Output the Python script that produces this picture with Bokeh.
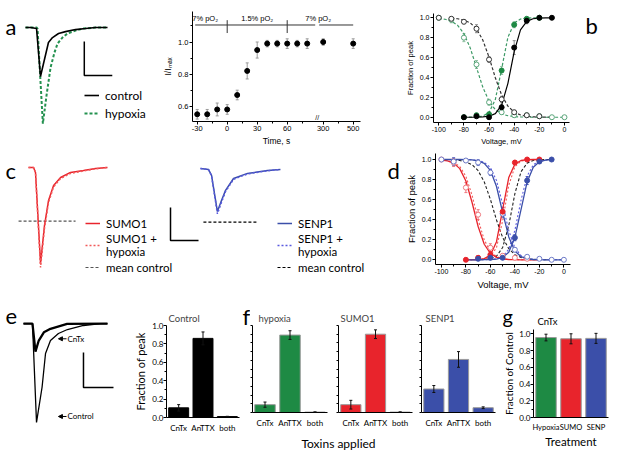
from bokeh.plotting import figure
from bokeh.layouts import row, column
from bokeh.models import (Range1d, FactorRange, FixedTicker, Label, Legend, LegendItem,
                          Whisker, ColumnDataSource, Arrow, NormalHead, TeeHead,
                          CustomJSTickFormatter, NumeralTickFormatter)
from bokeh.embed import file_html
from bokeh.resources import INLINE

ARIAL = "Liberation Sans"
CAL = "Lato"
GREEN = "#1e8a44"
GREEN_B = "#3d9a66"
GREEN_TR = "#23914f"
RED = "#e8242c"
RED_LT = "#f07a80"
RED_DOT = "#f25a5a"
BLUE = "#3b4fa9"
BLUE_LT = "#6f7cc8"
BLUE_DOT = "#5a5ae0"

# ======================= DATA =======================
# (a) example Na+ currents: time (ms), current (pA)
a_ctrl_t = [0.0, 0.36, 0.79, 1.07, 1.64, 1.93, 2.36, 2.86, 3.57, 4.29, 5.0, 5.86]
a_ctrl_i = [0, 0, -6, -288, -88, -59, -35, -24, -12, -6, 0, 0]
a_hyp_t = [0.0, 0.79, 0.86, 1.24, 1.5, 1.79, 2.07, 2.29, 2.64, 3.0, 3.57, 4.14, 5.0, 5.86]
a_hyp_i = [0, 0, -6, -565, -400, -235, -147, -94, -59, -35, -18, -6, 0, 0]

# (a) I/Imax time course
a2_t = [-30, -20, -10, 0, 10, 20, 30, 40, 50, 60, 70, 80, 300, 500]
a2_val = [0.55, 0.55, 0.58, 0.58, 0.67, 0.82, 0.95, 0.99, 0.99, 0.99, 0.99, 0.99, 1.0, 0.99]
a2_err = [0.03, 0.03, 0.04, 0.03, 0.03, 0.05, 0.05, 0.02, 0.02, 0.03, 0.02, 0.03, 0.02, 0.03]
a2_tick_t = [-30, 0, 30, 60, 300, 500]
a2_tick_labels = ["-30", "0", "30", "60", "300", "500"]
po2_switch_t = [0, 60]
po2_labels = ["7% pO\u2082", "1.5% pO\u2082", "7% pO\u2082"]

# (b) activation / inactivation (voltage mV, fraction of peak)
b_ctrl_act_v = [-80, -70, -60, -50, -40, -30, -20, -10]
b_ctrl_act = [0.0, 0.01, 0.0, 0.10, 0.70, 0.97, 1.0, 1.0]
b_ctrl_act_err = [0.01, 0.01, 0.01, 0.03, 0.07, 0.03, 0.01, 0.01]
b_hyp_act_v = [-80, -70, -60, -50, -40, -30, -20]
b_hyp_act = [0.0, 0.02, 0.03, 0.47, 0.93, 0.99, 1.0]
b_hyp_act_err = [0.01, 0.02, 0.02, 0.04, 0.03, 0.01, 0.01]
b_ctrl_inact_v = [-100, -90, -80, -70, -60, -50, -40, -30, -20]
b_ctrl_inact = [1.0, 0.99, 0.96, 0.89, 0.58, 0.18, 0.05, 0.02, 0.01]
b_ctrl_inact_err = [0.01, 0.02, 0.02, 0.04, 0.03, 0.03, 0.02, 0.01, 0.01]
b_hyp_inact_v = [-100, -90, -80, -70, -60, -50, -40, -30, -20, -10, 0]
b_hyp_inact = [1.0, 0.98, 0.80, 0.53, 0.15, 0.05, 0.02, 0.02, 0.01, 0.0, 0.0]
b_hyp_inact_err = [0.01, 0.03, 0.04, 0.04, 0.03, 0.02, 0.02, 0.02, 0.02, 0.01, 0.01]

# fitted curves, read every 5 mV
fit_v_ctrl_act = list(range(-80, -9, 5))
fit_ctrl_act = [0.0, 0.0, 0.001, 0.003, 0.010, 0.036, 0.122, 0.341, 0.659, 0.878, 0.964, 0.990, 0.997, 0.999, 1.0]
fit_v_ctrl_inact = list(range(-90, -9, 5))
fit_ctrl_inact = [0.996, 0.990, 0.977, 0.949, 0.889, 0.777, 0.603, 0.397, 0.223, 0.111, 0.051, 0.023, 0.010,
                  0.004, 0.002, 0.001, 0.0]
fit_v_hyp_act = list(range(-80, -19, 5))
fit_hyp_act = [0.0, 0.001, 0.003, 0.011, 0.047, 0.178, 0.485, 0.804, 0.947, 0.987, 0.997, 0.999, 1.0]
fit_v_hyp_inact = list(range(-100, 1, 5))
fit_hyp_inact = [0.993, 0.985, 0.966, 0.924, 0.841, 0.697, 0.5, 0.303, 0.159, 0.076, 0.034, 0.015, 0.007,
                 0.003, 0.001, 0.0, 0.0, 0.0, 0.0, 0.0, 0.0]

# (c) SUMO1 / SENP1 currents: time (ms), current (pA)
c_sumo_t = [0.0, 0.36, 0.5, 0.86, 1.14, 1.43, 1.79, 2.29, 3.0, 3.93, 4.79, 5.64]
c_sumo_i = [0, 0, -30, -582, -352, -200, -109, -61, -30, -18, -6, 0]
c_sumo_hyp_i = [0, 0, -30, -606, -370, -212, -118, -67, -36, -21, -8, 0]
c_senp_t = [0.0, 0.57, 0.79, 1.21, 1.5, 1.79, 2.36, 3.36, 4.79, 5.71]
c_senp_i = [0, -6, -42, -261, -194, -133, -61, -30, -12, -6]
c_senp_hyp_i = [0, -6, -45, -275, -205, -140, -66, -33, -14, -6]
c_mean_ctrl_peak = -325
c_sumo_mean_t = [-0.71, 3.36]
c_senp_mean_t = [0.21, 4.14]

# (d) SUMO1 / SENP1 activation and inactivation
d_sumo_inact_v = [-100, -90, -80, -70, -60, -50, -40, -30]
d_sumo_inact = [1.0, 0.97, 0.72, 0.45, 0.12, 0.04, 0.02, 0.01]
d_sumo_inact_err = [0.01, 0.04, 0.05, 0.05, 0.04, 0.02, 0.01, 0.01]
d_sumo_act_v = [-80, -70, -60, -50, -40, -30, -20]
d_sumo_act = [0.0, 0.02, 0.05, 0.48, 0.97, 1.0, 1.0]
d_sumo_act_err = [0.01, 0.02, 0.03, 0.04, 0.02, 0.01, 0.01]
d_senp_inact_v = [-100, -90, -80, -70, -60, -50, -40, -30, -20, -10, 0]
d_senp_inact = [1.0, 0.98, 0.99, 0.97, 0.87, 0.46, 0.10, 0.03, 0.01, 0.0, 0.0]
d_senp_inact_err = [0.01, 0.04, 0.02, 0.03, 0.03, 0.04, 0.02, 0.01, 0.01, 0.01, 0.01]
d_senp_act_v = [-70, -60, -50, -40, -30, -20, -10]
d_senp_act = [0.01, 0.02, 0.02, 0.22, 0.79, 0.98, 1.0]
d_senp_act_err = [0.01, 0.01, 0.01, 0.03, 0.04, 0.02, 0.01]

fit_v_sumo_inact = list(range(-100, -19, 5))
fit_sumo_inact = [0.995, 0.987, 0.964, 0.909, 0.786, 0.574, 0.332, 0.155, 0.063, 0.024, 0.009, 0.003, 0.001,
                  0.0, 0.0, 0.0, 0.0]
fit_sumo_hyp_inact = [0.996, 0.990, 0.973, 0.931, 0.832, 0.646, 0.401, 0.198, 0.083, 0.032, 0.012, 0.004,
                      0.002, 0.0, 0.0, 0.0, 0.0]
fit_v_sumo_act = list(range(-80, -19, 5))
fit_sumo_act = [0.0, 0.001, 0.002, 0.011, 0.046, 0.180, 0.5, 0.820, 0.954, 0.990, 0.998, 1.0, 1.0]
fit_sumo_hyp_act = [0.0, 0.0, 0.002, 0.007, 0.030, 0.122, 0.388, 0.743, 0.929, 0.984, 0.996, 0.999, 1.0]
fit_v_senp_inact = list(range(-100, 1, 5))
fit_senp_inact = [1.0, 1.0, 1.0, 1.0, 0.999, 0.996, 0.987, 0.962, 0.892, 0.731, 0.472, 0.228, 0.088, 0.031,
                  0.010, 0.003, 0.001, 0.0, 0.0, 0.0, 0.0]
fit_senp_hyp_inact = [1.0, 1.0, 1.0, 1.0, 0.999, 0.997, 0.991, 0.972, 0.920, 0.791, 0.555, 0.291, 0.119,
                      0.043, 0.014, 0.005, 0.002, 0.0, 0.0, 0.0, 0.0]
fit_v_senp_act = list(range(-80, -9, 5))
fit_senp_act = [0.0, 0.0, 0.0, 0.001, 0.002, 0.007, 0.023, 0.076, 0.223, 0.5, 0.777, 0.924, 0.977, 0.993, 0.998]
fit_senp_hyp_act = [0.0, 0.0, 0.0, 0.001, 0.003, 0.010, 0.033, 0.106, 0.294, 0.593, 0.836, 0.947, 0.984,
                    0.995, 0.999]

v_ticks = [-100, -80, -60, -40, -20, 0]
v_tick_labels = ["-100", "-80", "-60", "-40", "-20", "0"]
v_minor = [-90, -70, -50, -30, -10]
frac_ticks = [0.0, 0.2, 0.4, 0.6, 0.8, 1.0]
frac_minor = [0.1, 0.3, 0.5, 0.7, 0.9]
f_ticks = [0.0, 0.1, 0.2, 0.3, 0.4, 0.5, 0.6, 0.7, 0.8, 0.9, 1.0]

# (e) control vs CnTx currents
e_ctrl_t = [0.0, 0.6, 0.87, 1.24, 1.47, 1.8, 2.33, 2.93, 4.0, 5.13, 5.6]
e_ctrl_i = [0, 0, -565, -364, -171, -97, -57, -34, -11, 0, 0]
e_cntx_t = [0.0, 0.6, 0.8, 1.02, 1.36, 1.8, 2.91, 5.6]
e_cntx_i = [0, 0, -160, -97, -50, -30, -2, 0]

# (e)-(g) toxin block bars
toxins = ["CnTx", "AnTTX", "both"]
e_ctrl_val = [0.105, 0.86, 0.01]
e_ctrl_err = [0.035, 0.07, 0.003]
f_hyp_val = [0.09, 0.89, 0.005]
f_hyp_err = [0.03, 0.05, 0.002]
f_sumo_val = [0.09, 0.90, 0.005]
f_sumo_err = [0.05, 0.05, 0.002]
f_senp_val = [0.27, 0.61, 0.055]
f_senp_err = [0.04, 0.09, 0.01]
treatments = ["Hypoxia", "SUMO", "SENP"]
g_val = [0.955, 0.94, 0.945]
g_err = [0.04, 0.06, 0.06]

# ======================= HELPERS =======================
BREAK_AT, BREAK_SCALE = 96, 0.15
LETTER = "22px"


def tx(t):
    return t if t <= 80 else BREAK_AT + (t - 300) * BREAK_SCALE


def base_fig(w, h, xr, yr, left=0, right=0, top=0, bottom=0, axes=True, title=None):
    kw = dict(width=w, height=h, x_range=xr, y_range=yr, output_backend="svg",
              toolbar_location=None, min_border_left=left, min_border_right=right,
              min_border_top=top, min_border_bottom=bottom, title=title)
    if not axes:
        kw.update(x_axis_location=None, y_axis_location=None)
    p = figure(**kw)
    p.frame_align = False
    p.outline_line_color = None
    p.grid.visible = False
    p.background_fill_color = "white"
    p.border_fill_color = "white"
    return p


def text_fig(w, h):
    return base_fig(w, h, Range1d(0, w), Range1d(0, h), axes=False)


def style_axes(p, font, tick_size, label_size, tick_out=3):
    for ax in p.axis:
        ax.axis_line_color = "black"
        ax.major_tick_line_color = "black"
        ax.minor_tick_line_color = "black"
        ax.major_tick_out = tick_out
        ax.major_tick_in = 0
        ax.minor_tick_out = 2
        ax.minor_tick_in = 0
        ax.major_label_text_font = font
        ax.major_label_text_font_size = tick_size
        ax.major_label_text_color = "black"
        ax.axis_label_text_font = font
        ax.axis_label_text_font_size = label_size
        ax.axis_label_text_font_style = "normal"
        ax.axis_label_text_color = "black"
        ax.major_label_standoff = 1
        ax.axis_label_standoff = 2


def add_whisker(p, xs, ys, es, color, head=3, level="underlay", width=1):
    src = ColumnDataSource(dict(x=list(xs),
                                lo=[y - e for y, e in zip(ys, es)],
                                hi=[y + e for y, e in zip(ys, es)]))
    w = Whisker(base="x", lower="lo", upper="hi", source=src, line_color=color,
                line_width=width, level=level,
                upper_head=TeeHead(size=head, line_color=color, line_width=width),
                lower_head=TeeHead(size=head, line_color=color, line_width=width))
    p.add_layout(w)


def text(p, x, y, t, font=CAL, size=LETTER, align="left", baseline="alphabetic"):
    p.add_layout(Label(x=x, y=y, text=t, text_font=font, text_font_size=size,
                       text_baseline=baseline, text_align=align, text_color="black"))


def scale_bar(p, t0, i0, dt, di):
    p.line([t0, t0, t0 + dt], [i0 + di, i0, i0], line_color="black", line_width=1.5)


def legend(p, items, loc, size="12px", h=14):
    lg = Legend(items=[LegendItem(label=l, renderers=[r]) for l, r in items], location=loc,
                orientation="vertical", border_line_color=None, background_fill_alpha=0,
                padding=0, margin=0, spacing=2, glyph_width=15, glyph_height=h,
                label_height=h, label_standoff=6, label_text_font=CAL,
                label_text_font_size=size, label_text_color="black")
    p.add_layout(lg)


# ======================= ROW 1 (height 148) =======================
pA1 = base_fig(150, 148, Range1d(-1.786, 8.93), Range1d(-711, 159), axes=False)
rA_h = pA1.line(a_hyp_t, a_hyp_i, line_color=GREEN_TR, line_width=2, line_dash="3 2")
rA_c = pA1.line(a_ctrl_t, a_ctrl_i, line_color="black", line_width=1.6)
scale_bar(pA1, 4.2, -282, 2.0, 200)
legend(pA1, [("control", rA_c), ("hypoxia", rA_h)], (84, 27), h=16)
text(pA1, -1.43, 6, "a")

pA2 = base_fig(222, 148, Range1d(-34.7, 133.3), Range1d(0.505, 1.19), left=42, right=12, top=11, bottom=25)
style_axes(pA2, ARIAL, "7.5px", "8.5px")
a2_x = [tx(t) for t in a2_t]
add_whisker(pA2, a2_x, a2_val, a2_err, "#9a9a9a", head=3)
pA2.scatter(a2_x, a2_val, size=5, color="black")
tick_pos = [tx(t) for t in a2_tick_t]
pA2.xaxis.ticker = FixedTicker(ticks=tick_pos, minor_ticks=[-15, 15, 45, 75, tx(400)])
pA2.xaxis.major_label_overrides = dict(zip(tick_pos, a2_tick_labels))
pA2.yaxis.ticker = FixedTicker(ticks=[0.6, 0.8, 1.0], minor_ticks=[0.7, 0.9, 1.1])
pA2.yaxis.formatter = NumeralTickFormatter(format="0.0")
pA2.xaxis.axis_label = "Time, s"
pA2.yaxis.axis_label = "I/I\u2098\u2090\u2093"
po2_y, po2_tick = 1.106, 0.03
po2_x0 = [-32, po2_switch_t[0], po2_switch_t[1], BREAK_AT - 4]
po2_x1 = [po2_switch_t[0], po2_switch_t[1], BREAK_AT - 8, tx(500)]
pA2.segment(x0=po2_x0, y0=[po2_y] * 4, x1=po2_x1, y1=[po2_y] * 4, line_color="#333", line_width=1)
pA2.segment(x0=po2_switch_t, y0=[po2_y - po2_tick - 0.02] * 2, x1=po2_switch_t,
            y1=[po2_y + po2_tick] * 2, line_color="#333", line_width=1)
for lx, lt in zip([-22, 30, 91], po2_labels):
    text(pA2, lx, po2_y + 0.012, lt, font=ARIAL, size="7.5px", align="center", baseline="bottom")
pA2.add_layout(Label(x=BREAK_AT - 6, y=0.508, text="//", text_font=ARIAL, text_font_size="7px",
                     text_align="center", text_baseline="bottom", text_color="black"))

pB = base_fig(199, 148, Range1d(-104.2, 4.0), Range1d(-0.053, 1.043), left=61, right=2, top=13, bottom=25)
style_axes(pB, ARIAL, "7px", "7.5px")
pB.xaxis.ticker = FixedTicker(ticks=v_ticks, minor_ticks=v_minor)
pB.xaxis.major_label_overrides = dict(zip(v_ticks, v_tick_labels))
pB.yaxis.ticker = FixedTicker(ticks=frac_ticks, minor_ticks=frac_minor)
pB.yaxis.formatter = NumeralTickFormatter(format="0.0")
pB.xaxis.axis_label = "Voltage, mV"
pB.yaxis.axis_label = "Fraction of peak"
pB.line(fit_v_hyp_inact, fit_hyp_inact, line_color=GREEN_B, line_width=1.2, line_dash="3 2")
pB.line(fit_v_hyp_act, fit_hyp_act, line_color=GREEN_B, line_width=1.2, line_dash="3 2")
pB.line(fit_v_ctrl_inact, fit_ctrl_inact, line_color="#333333", line_width=1.2, line_dash="3 2")
pB.line(fit_v_ctrl_act, fit_ctrl_act, line_color="black", line_width=1.2)
add_whisker(pB, b_hyp_inact_v, b_hyp_inact, b_hyp_inact_err, "#8fbfa0")
add_whisker(pB, b_ctrl_inact_v, b_ctrl_inact, b_ctrl_inact_err, "#888888")
add_whisker(pB, b_hyp_act_v, b_hyp_act, b_hyp_act_err, "#8fbfa0")
add_whisker(pB, b_ctrl_act_v, b_ctrl_act, b_ctrl_act_err, "#888888")
pB.scatter(b_hyp_inact_v, b_hyp_inact, size=5, fill_color="white", line_color="#5aa57a", line_width=1)
pB.scatter(b_ctrl_inact_v, b_ctrl_inact, size=5, fill_color="white", line_color="#333333", line_width=1)
pB.scatter(b_hyp_act_v, b_hyp_act, size=5, fill_color=GREEN, line_color=GREEN)
pB.scatter(b_ctrl_act_v, b_ctrl_act, size=5, fill_color="black", line_color="black")

pLb = text_fig(46, 148)
text(pLb, 14, 123, "b")

# ======================= ROW 2 (height 146) =======================
pC1 = base_fig(199, 146, Range1d(-2.0, 12.21), Range1d(-770, 115), axes=False)
rC1_m = pC1.line(c_sumo_mean_t, [c_mean_ctrl_peak] * 2, line_color="#555555", line_width=1.2, line_dash="3 2")
rC1_s = pC1.line(c_sumo_t, c_sumo_i, line_color=RED, line_width=1.5)
rC1_h = pC1.line(c_sumo_t, c_sumo_hyp_i, line_color=RED_DOT, line_width=1.5, line_dash="2 2")
scale_bar(pC1, 10.14, -442, 2.0, 200)
legend(pC1, [("SUMO1", rC1_s), ("SUMO1 +\nhypoxia", rC1_h), ("mean control", rC1_m)], (85, 20), "11.5px")
text(pC1, -1.64, -18, "c")

pC2 = base_fig(203, 146, Range1d(-0.07, 14.43), Range1d(-764, 121), axes=False)
rC2_m = pC2.line(c_senp_mean_t, [c_mean_ctrl_peak] * 2, line_color="black", line_width=1.2, line_dash="3 2")
rC2_s = pC2.line(c_senp_t, c_senp_i, line_color=BLUE, line_width=1.5)
rC2_h = pC2.line(c_senp_t, c_senp_hyp_i, line_color=BLUE_DOT, line_width=1.5, line_dash="2 2")
legend(pC2, [("SENP1", rC2_s), ("SENP1 +\nhypoxia", rC2_h), ("mean control", rC2_m)], (78, 20), "11.5px")
text(pC2, 13.36, -12, "d")

pD = base_fig(215, 146, Range1d(-104.8, 5.4), Range1d(-0.047, 1.06), left=31, right=47, top=5, bottom=30)
style_axes(pD, ARIAL, "7px", "9.5px")
pD.xaxis.ticker = FixedTicker(ticks=v_ticks, minor_ticks=v_minor)
pD.xaxis.major_label_overrides = dict(zip(v_ticks, v_tick_labels))
pD.yaxis.ticker = FixedTicker(ticks=frac_ticks, minor_ticks=frac_minor)
pD.yaxis.formatter = NumeralTickFormatter(format="0.0")
pD.xaxis.axis_label = "Voltage, mV"
pD.yaxis.axis_label = "Fraction of peak"
pD.line(fit_v_ctrl_inact, fit_ctrl_inact, line_color="#222222", line_width=1.1, line_dash="3 2")
pD.line(fit_v_ctrl_act, fit_ctrl_act, line_color="#222222", line_width=1.1, line_dash="3 2")
pD.line(fit_v_sumo_inact, fit_sumo_hyp_inact, line_color=RED_DOT, line_width=1.1, line_dash="2 2")
pD.line(fit_v_sumo_act, fit_sumo_hyp_act, line_color=RED_DOT, line_width=1.1, line_dash="2 2")
pD.line(fit_v_senp_inact, fit_senp_hyp_inact, line_color=BLUE_DOT, line_width=1.1, line_dash="2 2")
pD.line(fit_v_senp_act, fit_senp_hyp_act, line_color=BLUE_DOT, line_width=1.1, line_dash="2 2")
pD.line(fit_v_sumo_inact, fit_sumo_inact, line_color=RED, line_width=1.3)
pD.line(fit_v_sumo_act, fit_sumo_act, line_color=RED, line_width=1.3)
pD.line(fit_v_senp_inact, fit_senp_inact, line_color=BLUE, line_width=1.3)
pD.line(fit_v_senp_act, fit_senp_act, line_color=BLUE, line_width=1.3)
add_whisker(pD, d_sumo_inact_v, d_sumo_inact, d_sumo_inact_err, RED_LT)
add_whisker(pD, d_sumo_act_v, d_sumo_act, d_sumo_act_err, RED)
add_whisker(pD, d_senp_inact_v, d_senp_inact, d_senp_inact_err, BLUE_LT)
add_whisker(pD, d_senp_act_v, d_senp_act, d_senp_act_err, BLUE)
pD.scatter(d_sumo_inact_v, d_sumo_inact, size=5, fill_color="white", line_color=RED_LT, line_width=1)
pD.scatter(d_senp_inact_v, d_senp_inact, size=5, fill_color="white", line_color=BLUE_LT, line_width=1)
pD.scatter(d_sumo_act_v, d_sumo_act, size=5, fill_color=RED, line_color=RED)
pD.scatter(d_senp_act_v, d_senp_act, size=5, fill_color=BLUE, line_color=BLUE)

# ======================= ROW 3 (height 157) =======================
pE1 = base_fig(125, 157, Range1d(-1.53, 6.8), Range1d(-731, 166), axes=False)
pE1.line(e_ctrl_t, e_ctrl_i, line_color="black", line_width=1.3)
pE1.line(e_cntx_t, e_cntx_i, line_color="black", line_width=2.3)
scale_bar(pE1, 4.0, -366, 2.0, 200)
for y_arrow, txt in [(-87, "CnTx"), (-531, "Control")]:
    pE1.add_layout(Arrow(end=NormalHead(size=4, fill_color="black", line_color="black"),
                         x_start=2.87, y_start=y_arrow, x_end=2.33, y_end=y_arrow,
                         line_color="black", line_width=1))
    text(pE1, 2.93, y_arrow, txt, size="8px", baseline="middle")
text(pE1, -1.2, 40, "e")


def bar_fig(w, h, cats, vals, errs, colors, left, right, top, bottom, title, y_end,
            labels=True, title_offset=2, outline="#9a9a9a", tick_size="8px"):
    p = base_fig(w, h, FactorRange(*cats), Range1d(0, y_end), left=left, right=right,
                 top=top, bottom=bottom, title=title)
    if title is not None:
        p.title.text_font = CAL
        p.title.text_font_size = "9.5px"
        p.title.text_font_style = "normal"
        p.title.align = "left"
        p.title.offset = title_offset
        p.title.standoff = 3
    p.vbar(x=cats, top=vals, width=0.82, fill_color=colors, line_color=outline, line_width=1)
    add_whisker(p, cats, vals, errs, "#111111", head=3, level="overlay")
    style_axes(p, CAL, tick_size, "11px")
    p.yaxis.major_label_text_font_size = "8px"
    p.xaxis.major_tick_line_color = None
    p.xaxis.minor_tick_line_color = None
    p.xaxis.major_label_standoff = 2
    p.yaxis.major_label_standoff = 0
    if labels:
        p.yaxis.ticker = FixedTicker(ticks=frac_ticks, minor_ticks=frac_minor)
        p.yaxis.formatter = NumeralTickFormatter(format="0.0")
    else:
        p.yaxis.ticker = FixedTicker(ticks=f_ticks, minor_ticks=[])
        p.yaxis.formatter = CustomJSTickFormatter(code="return ''")
        p.yaxis.major_tick_out = 2
    return p


pE2 = bar_fig(116, 157, toxins, e_ctrl_val, e_ctrl_err, "black", 41, 2, 31, 34, "Control", 1.0,
              outline="black")
pE2.yaxis.axis_label = "Fraction of peak"

pLf = text_fig(9, 136)
text(pLf, 1, 114, "f")
pF1 = bar_fig(83, 136, toxins, f_hyp_val, f_hyp_err, GREEN, 2, 6, 31, 12, "hypoxia", 1.0,
              labels=False, title_offset=6)
pF2 = bar_fig(84, 136, toxins, f_sumo_val, f_sumo_err, RED, 5, 5, 31, 12, "SUMO1", 1.0,
              labels=False, title_offset=2)
pF3 = bar_fig(79, 136, toxins, f_senp_val, f_senp_err, BLUE, 4, 1, 31, 12, "SENP1", 1.0,
              labels=False, title_offset=4)
pFL = text_fig(255, 21)
text(pFL, 97, 8, "Toxins applied", size="12px", align="center")

pGt = text_fig(121, 35)
text(pGt, 6, 14, "g", size="20px")
text(pGt, 41, 8, "CnTx", size="9.5px")
pG = bar_fig(121, 122, treatments, g_val, g_err, [GREEN, RED, BLUE], 37, 9, 0, 34, None, 1.051,
             tick_size="7.5px")
pG.yaxis.axis_label = "Fraction of Control"
pG.yaxis.axis_label_text_font_size = "10px"
pG.yaxis.axis_label_standoff = 1
pG.xaxis.axis_label = "Treatment"
pG.xaxis.axis_label_text_font_size = "11.5px"
pG.xaxis.axis_label_standoff = 0

layout = column(
    row(pA1, pA2, pB, pLb),
    row(pC1, pC2, pD),
    row(pE1, pE2, column(row(pLf, pF1, pF2, pF3), pFL), column(pGt, pG)),
)

open("out.html", "w").write(file_html(layout, INLINE, title="Figure"))
